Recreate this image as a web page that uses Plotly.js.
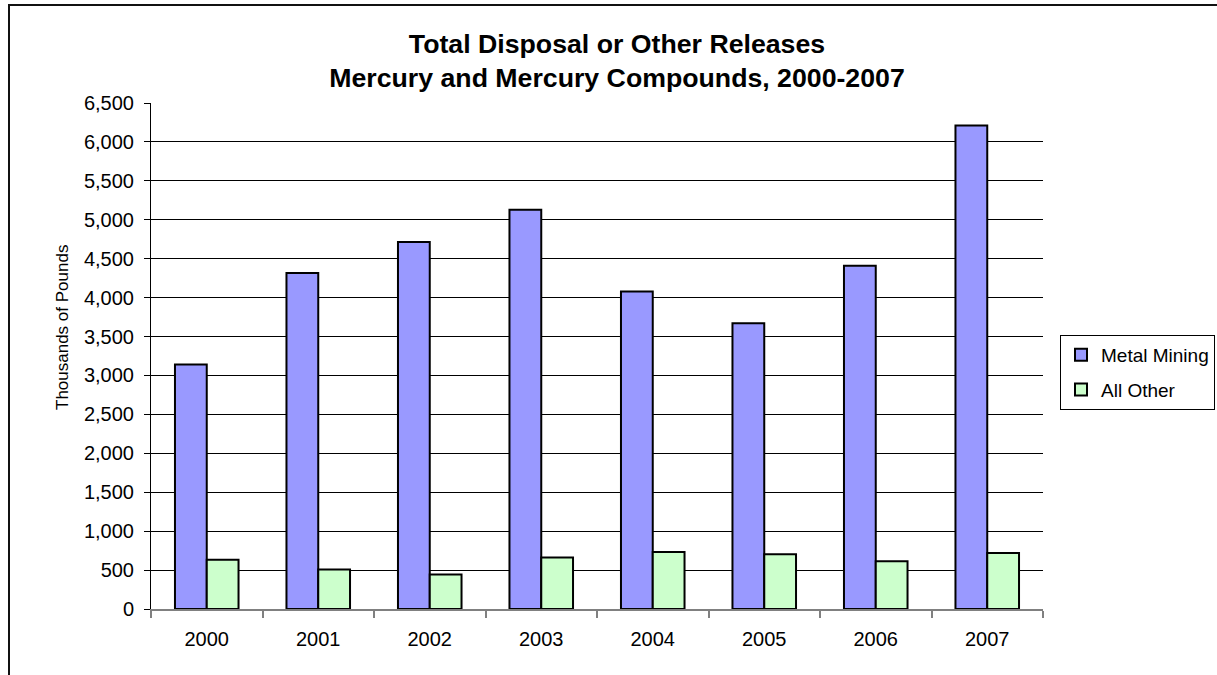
<!DOCTYPE html>
<html>
<head>
<meta charset="utf-8">
<script src="https://cdn.plot.ly/plotly-3.0.1.min.js"></script>
<style>
  html, body { margin: 0; padding: 0; background: #fff; }
  #wrap { position: relative; width: 1217px; height: 675px; overflow: hidden; }
  #chart { position: absolute; left: 0; top: 0; width: 1217px; height: 675px; }
  /* outer chart frame: only its top and left edges fall inside the page */
  #frame { position: absolute; left: 8px; top: 4px; width: 1400px; height: 900px;
           border-top: 2px solid #111; border-left: 2px solid #111; pointer-events: none; }
</style>
</head>
<body>
<div id="wrap">
  <div id="chart"></div>
  <div id="frame"></div>
</div>
<script>
// Years on the category axis
const years = ['2000', '2001', '2002', '2003', '2004', '2005', '2006', '2007'];
// Total disposal or other releases, thousands of pounds
const metalMining = [3140, 4315, 4715, 5130, 4080, 3670, 4410, 6210];
const allOther = [632, 508, 442, 663, 733, 702, 614, 720];
// Series names and axis text
const seriesNames = ['Metal Mining', 'All Other'];
const chartTitle = 'Total Disposal or Other Releases<br>Mercury and Mercury Compounds, 2000-2007';
const yTitle = 'Thousands of Pounds';

const FONT = 'Arial, "Liberation Sans", sans-serif';

// plot area in pixels: x 151..1043, y 103..609
const PLOT = { l: 151, r: 1043, t: 103, b: 609 };
const px2x = (px) => (px - PLOT.l) / (PLOT.r - PLOT.l);
const px2y = (py) => (PLOT.b - py) / (PLOT.b - PLOT.t);

const traces = [
  {
    type: 'bar', name: seriesNames[0], x: years, y: metalMining,
    legendgroup: 'a',
    marker: { color: '#9999FF', line: { color: '#000', width: 2 } },
    hoverinfo: 'x+y+name'
  },
  {
    type: 'bar', name: seriesNames[1], x: years, y: allOther,
    legendgroup: 'b',
    marker: { color: '#CCFFCC', line: { color: '#000', width: 2 } },
    hoverinfo: 'x+y+name'
  }
];

const layout = {
  width: 1217, height: 675,
  paper_bgcolor: '#fff', plot_bgcolor: '#fff',
  margin: { l: PLOT.l, r: 1217 - PLOT.r, t: PLOT.t, b: 675 - PLOT.b, pad: 0, autoexpand: false },
  font: { family: FONT, size: 20, color: '#000' },
  barmode: 'group', bargap: 0.43, bargroupgap: 0,
  title: {
    text: chartTitle,
    font: { family: FONT, size: 26.7, color: '#000', weight: 'bold' },
    xref: 'container', x: 617 / 1217, xanchor: 'center',
    yref: 'container', y: 0.922, yanchor: 'middle'
  },
  xaxis: {
    type: 'category',
    showline: true, linecolor: '#808080', linewidth: 2,
    ticks: 'outside', tickson: 'boundaries', ticklen: 7, tickcolor: '#808080', tickwidth: 2,
    showgrid: false, zeroline: false,
    tickfont: { family: FONT, size: 20, color: '#000' },
    ticklabelstandoff: 11
  },
  yaxis: {
    range: [0, 6500], dtick: 500, tick0: 0, tickformat: ',d',
    showline: true, linecolor: '#000', linewidth: 1,
    ticks: 'outside', ticklen: 6, tickcolor: '#000', tickwidth: 1,
    showgrid: true, gridcolor: '#000', gridwidth: 1, zeroline: false,
    tickfont: { family: FONT, size: 20, color: '#000' },
    ticklabelstandoff: 6
  },
  annotations: [
    {
      text: yTitle, textangle: -90, showarrow: false,
      xref: 'paper', x: px2x(62), xanchor: 'center',
      yref: 'paper', y: px2y(328), yanchor: 'middle',
      font: { family: FONT, size: 17, color: '#000' }
    }
  ],
  showlegend: true,
  legend: {
    x: px2x(1060), xanchor: 'left', y: px2y(372.5), yanchor: 'middle',
    bordercolor: '#000', borderwidth: 1, bgcolor: '#fff',
    font: { family: FONT, size: 19, color: '#000' },
    tracegroupgap: 7, traceorder: 'grouped'
  }
};

Plotly.newPlot('chart', traces, layout, { displayModeBar: false, staticPlot: true });
</script>
</body>
</html>
